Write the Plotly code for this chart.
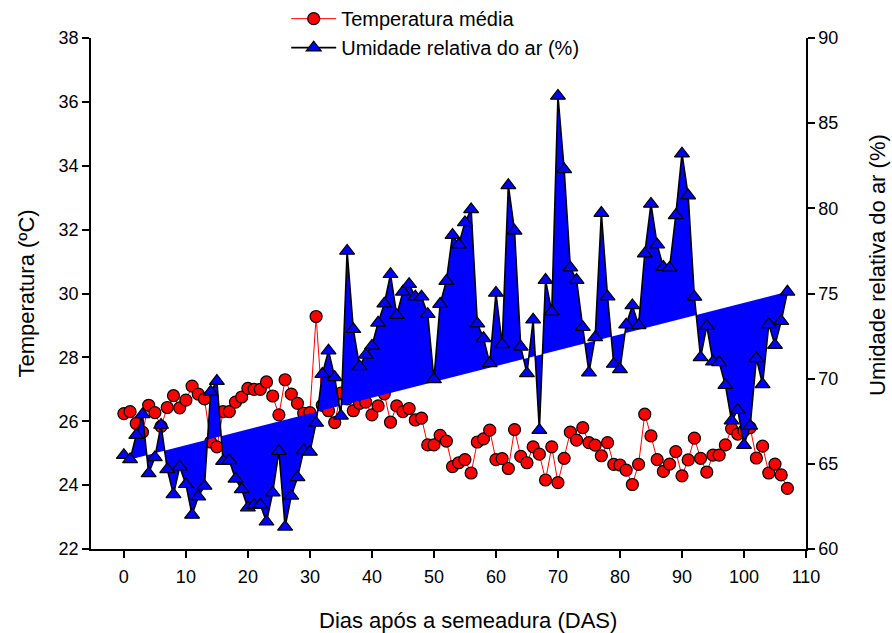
import plotly.graph_objects as go

# ---- data ----
days = list(range(108))

temp_media = [
    26.24, 26.30, 25.93, 25.66, 26.50, 26.27, 25.84, 26.43, 26.80, 26.42,
    26.66, 27.10, 26.85, 26.70, 25.35, 25.20, 26.30, 26.30, 26.60, 26.76,
    27.03, 27.00, 27.00, 27.23, 26.79, 26.20, 27.30, 26.85, 26.56, 26.25,
    26.27, 29.28, 26.50, 26.33, 25.96, 26.88, 26.70, 26.33, 26.56, 26.60,
    26.20, 26.48, 26.86, 25.97, 26.48, 26.30, 26.40, 26.04, 26.10, 25.26,
    25.26, 25.56, 25.38, 24.58, 24.70, 24.80, 24.38, 25.35, 25.45, 25.72,
    24.80, 24.83, 24.52, 25.74, 24.90, 24.70, 25.20, 24.97, 24.16, 25.20,
    24.08, 24.84, 25.66, 25.41, 25.80, 25.33, 25.25, 24.92, 25.33, 24.65,
    24.63, 24.47, 24.02, 24.65, 26.22, 25.54, 24.80, 24.43, 24.66, 25.05,
    24.29, 24.79, 25.47, 24.84, 24.41, 24.94, 24.94, 25.26, 25.77, 25.60,
    25.70, 25.80, 24.85, 25.22, 24.38, 24.66, 24.32, 23.90,
]

umidade = [
    65.51, 65.26, 66.69, 67.90, 64.44, 65.38, 67.28, 64.67, 63.20, 64.83,
    63.80, 62.00, 63.07, 63.70, 69.23, 69.86, 65.16, 65.20, 64.12, 63.50,
    62.43, 62.58, 62.60, 61.60, 63.31, 65.74, 61.30, 63.12, 64.20, 65.79,
    65.70, 67.40, 70.27, 71.64, 70.08, 67.82, 77.50, 72.90, 70.72, 71.39,
    71.92, 73.28, 74.40, 76.13, 73.73, 75.10, 75.55, 74.81, 74.81, 73.79,
    69.96, 74.38, 75.73, 78.43, 77.87, 79.17, 79.94, 73.23, 72.37, 70.90,
    75.03, 72.01, 81.35, 78.68, 71.87, 70.31, 73.46, 66.98, 75.79, 73.93,
    86.60, 82.29, 76.52, 75.79, 73.02, 70.35, 72.42, 79.72, 74.81, 70.86,
    70.55, 73.17, 74.30, 73.13, 77.34, 80.26, 77.87, 76.55, 76.50, 79.59,
    83.21, 80.75, 74.80, 71.25, 73.09, 71.00, 70.96, 69.62, 67.53, 68.15,
    66.10, 67.23, 71.19, 69.67, 73.19, 71.97, 73.38, 75.10,
]

# straight reference line the blue area is filled against (end points)
trend_days = [1, 107]
trend_umidade = [65.26, 75.10]

x_ticks = list(range(0, 111, 10))

# ---- figure ----
FONT = "Liberation Sans, Arial, sans-serif"
fig = go.Figure()

fig.add_trace(go.Scatter(
    x=days, y=temp_media, name="Temperatura média", yaxis="y",
    mode="lines+markers", legendgroup="a",
    line=dict(color="#FF0000", width=1),
    marker=dict(symbol="circle", size=12, color="#FF0000",
                line=dict(color="black", width=1.2)),
))

# blue area between humidity curve and the straight line
fill_x = days[1:] + trend_days[::-1]
fill_y = umidade[1:] + trend_umidade[::-1]
fig.add_trace(go.Scatter(
    x=fill_x, y=fill_y, yaxis="y2", mode="lines",
    line=dict(width=0, color="#0000FF"), fill="toself",
    fillcolor="#0000FF", showlegend=False, hoverinfo="skip",
))

fig.add_trace(go.Scatter(
    x=days, y=umidade, name="Umidade relativa do ar (%)", yaxis="y2",
    mode="lines+markers", legendgroup="b",
    line=dict(color="black", width=1.6),
    marker=dict(symbol="triangle-up", size=13, color="#0000FF",
                line=dict(color="black", width=1.2)),
))

axis_common = dict(
    showline=True, linecolor="black", linewidth=1.5,
    ticks="outside", ticklen=7, tickwidth=1.5, tickcolor="black",
    showgrid=False, zeroline=False,
    tickfont=dict(family=FONT, size=18, color="black"),
)

title_font = dict(family=FONT, size=22, color="black")

fig.update_layout(
    width=892, height=633,
    margin=dict(l=91, r=86, t=38, b=84, autoexpand=False),
    paper_bgcolor="white", plot_bgcolor="white",
    font=dict(family=FONT, color="black"),
    xaxis=dict(
        range=[-5.3, 110], tickvals=x_ticks, ticklabelstandoff=4,
        **axis_common,
    ),
    yaxis=dict(
        range=[22, 38], dtick=2, tick0=22, **axis_common,
        title=dict(text="Temperatura (ºC)", font=title_font, standoff=18),
    ),
    yaxis2=dict(
        range=[60, 90], dtick=5, tick0=60, side="right",
        overlaying="y", anchor="x", **axis_common,
    ),
    annotations=[
        dict(text="Dias após a semeadura (DAS)", xref="paper", yref="paper",
             x=0.527, y=-0.140, xanchor="center", yanchor="middle",
             showarrow=False, font=title_font),
        dict(text="Umidade relativa do ar (%)", xref="paper", yref="paper",
             x=1.1007, y=0.556, xanchor="center", yanchor="middle",
             textangle=-90, showarrow=False, font=title_font),
    ],
    legend=dict(
        x=0.273, y=1.076, xanchor="left", yanchor="top",
        bgcolor="rgba(0,0,0,0)", font=dict(family=FONT, size=20),
        traceorder="grouped", tracegroupgap=0, itemwidth=45,
    ),
    showlegend=True,
)

fig.write_html("out.html")
